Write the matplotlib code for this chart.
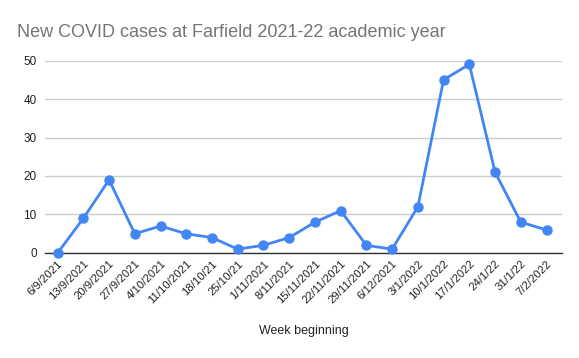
import matplotlib
matplotlib.use("Agg")
import matplotlib.pyplot as plt

plt.rcParams['font.family'] = ['Liberation Sans', 'DejaVu Sans']

# Data
weeks = ["6/9/2021", "13/9/2021", "20/9/2021", "27/9/2021", "4/10/2021",
         "11/10/2021", "18/10/21", "25/10/21", "1/11/2021", "8/11/2021",
         "15/11/2021", "22/11/2021", "29/11/2021", "6/12/2021", "3/1/2022",
         "10/1/2022", "17/1/2022", "24/1/22", "31/1/22", "7/2/2022"]
cases = [0, 9, 19, 5, 7, 5, 4, 1, 2, 4, 8, 11, 2, 1, 12, 45, 49, 21, 8, 6]
y_ticks = [0, 10, 20, 30, 40, 50]

fig = plt.figure(figsize=(5.79, 3.58), dpi=100)
ax = fig.add_axes([0.0777, 0.2933, 0.8929, 0.5377])

x = list(range(len(weeks)))
ax.plot(x, cases, color='#4285F4', linewidth=2, marker='o', markersize=6.5,
        clip_on=False, zorder=3)

ax.set_xlim(-0.49, 19.6)
ax.set_ylim(0, 50)
ax.set_yticks(y_ticks)
ax.set_xticks(x)
ax.set_xticklabels(weeks, rotation=45, ha='right', rotation_mode='anchor',
                   fontsize=8.2, color='#222222')
ax.tick_params(axis='y', length=0, labelsize=8.5, labelcolor='#222222', pad=6)
ax.tick_params(axis='x', length=0, pad=4)

ax.grid(axis='y', color='#cccccc', linewidth=1)
ax.set_axisbelow(True)
for s in ['top', 'right', 'left']:
    ax.spines[s].set_visible(False)
ax.spines['bottom'].set_color('#333333')
ax.spines['bottom'].set_linewidth(1)
ax.spines['bottom'].set_zorder(2.5)

ax.set_xlabel("Week beginning", fontsize=9, color='#222222', labelpad=14)
fig.text(0.029, 0.908, "New COVID cases at Farfield 2021-22 academic year",
         fontsize=13, color='#757575', va='center', ha='left')

fig.savefig("out.png", dpi=100)
